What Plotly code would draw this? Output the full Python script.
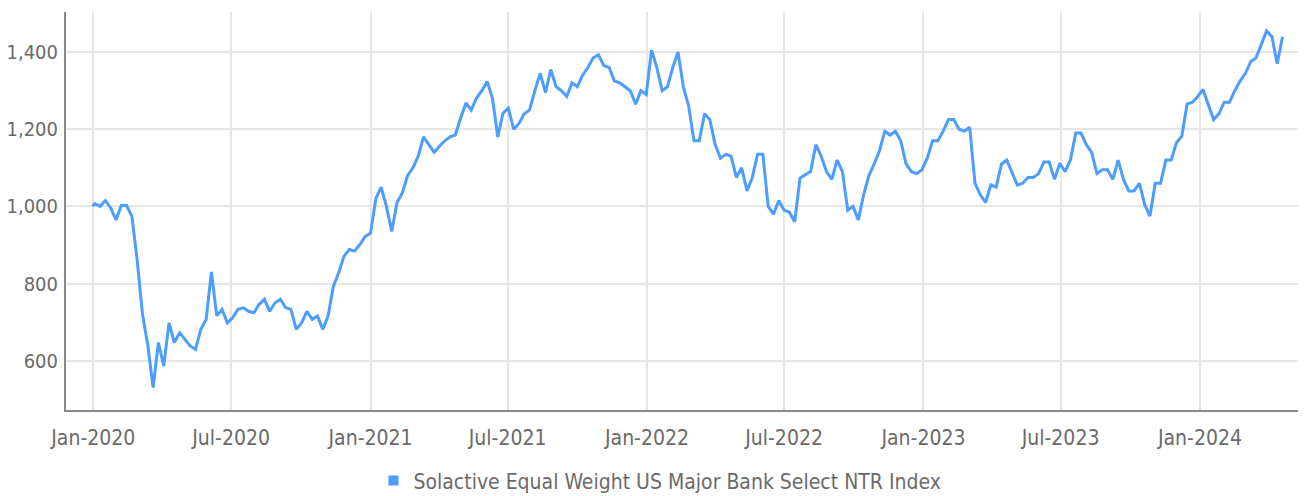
import pandas as pd
import plotly.graph_objects as go

series_name = "Solactive Equal Weight US Major Bank Select NTR Index"

start_date = "2019-12-31"
start_value = 1000
first_week = "2020-01-03"

weekly_values = [
    1007, 1000, 1015, 996, 965, 1002, 1002, 974, 860, 720,
    640, 530, 647, 586, 698, 647, 672, 655, 638, 629,
    681, 707, 830, 716, 733, 698, 711, 733, 737, 728,
    724, 746, 759, 728, 750, 759, 737, 733, 681, 698,
    728, 707, 716, 681, 716, 793, 828, 871, 888, 884,
    901, 922, 930, 1020, 1050, 1000, 935, 1010, 1035, 1080,
    1100, 1130, 1180, 1160, 1140, 1156, 1170, 1180, 1185, 1229,
    1268, 1250, 1281, 1300, 1324, 1280, 1180, 1242, 1255, 1200,
    1215, 1240, 1250, 1300, 1345, 1295, 1355, 1310, 1300, 1285,
    1320, 1310, 1340, 1360, 1385, 1393, 1365, 1360, 1325, 1320,
    1310, 1300, 1265, 1300, 1290, 1405, 1360, 1300, 1310, 1360,
    1400, 1310, 1260, 1170, 1170, 1240, 1225, 1160, 1125, 1135,
    1130, 1075, 1100, 1040, 1075, 1135, 1135, 1000, 980, 1015,
    990, 985, 960, 1073, 1082, 1090, 1160, 1130, 1090, 1070,
    1120, 1090, 990, 1000, 965, 1030, 1080, 1110, 1145, 1195,
    1185, 1195, 1170, 1110, 1090, 1085, 1095, 1125, 1170, 1170,
    1195, 1225, 1225, 1200, 1195, 1205, 1060, 1030, 1010, 1056,
    1050, 1110, 1120, 1085, 1055, 1060, 1075, 1075, 1085, 1115,
    1115, 1070, 1112, 1090, 1120, 1190, 1190, 1160, 1140, 1085,
    1095, 1095, 1070, 1120, 1070, 1040, 1040, 1060, 1005, 975,
    1060, 1060, 1120, 1120, 1165, 1182, 1265, 1270, 1285, 1303,
    1265, 1225, 1240, 1270, 1270, 1300, 1325, 1345, 1375, 1385,
    1420, 1455, 1440, 1370, 1440,
]

weekly_dates = pd.date_range(first_week, periods=len(weekly_values), freq="7D")
dates = [pd.Timestamp(start_date)] + list(weekly_dates)
values = [start_value] + weekly_values

y_ticks = [600, 800, 1000, 1200, 1400]

LINE_COLOR = "#4d9dff"
FONT = "DejaVu Sans Condensed, Roboto, sans-serif"
TEXT_COLOR = "#6a6a6a"

fig = go.Figure()
fig.add_trace(go.Scatter(
    x=dates, y=values, mode="lines",
    line=dict(color=LINE_COLOR, width=3),
    showlegend=False, name=series_name,
))
fig.add_trace(go.Scatter(
    x=[None], y=[None], mode="markers",
    marker=dict(symbol="square", size=10, color=LINE_COLOR),
    name=series_name, showlegend=True,
))

fig.update_layout(
    width=1298, height=496,
    margin=dict(l=58, r=0, t=4, b=94),
    paper_bgcolor="white", plot_bgcolor="white",
    font=dict(family=FONT, size=21, color=TEXT_COLOR),
    legend=dict(orientation="h", x=0.479, xanchor="center", y=-0.178, yanchor="middle",
                font=dict(size=21, color=TEXT_COLOR), itemwidth=30),
    xaxis=dict(
        type="date", automargin=False,
        range=["2019-11-26", "2024-05-20"],
        tick0="2020-01-01", dtick="M6", tickformat="%b-%Y",
        showgrid=True, gridcolor="#e6e6e6", gridwidth=2,
        showline=True, linecolor="#8a8a8a", linewidth=2,
        ticks="outside", ticklen=8, tickcolor="rgba(0,0,0,0)",
        zeroline=False,
    ),
    yaxis=dict(
        automargin=False,
        range=[472, 1504],
        tickvals=y_ticks, tickformat=",d",
        tickfont=dict(size=20),
        showgrid=True, gridcolor="#e6e6e6", gridwidth=2,
        showline=True, linecolor="#8a8a8a", linewidth=2,
        ticks="outside", ticklen=2, tickcolor="rgba(0,0,0,0)",
        zeroline=False,
    ),
)

fig.write_html("out.html")
